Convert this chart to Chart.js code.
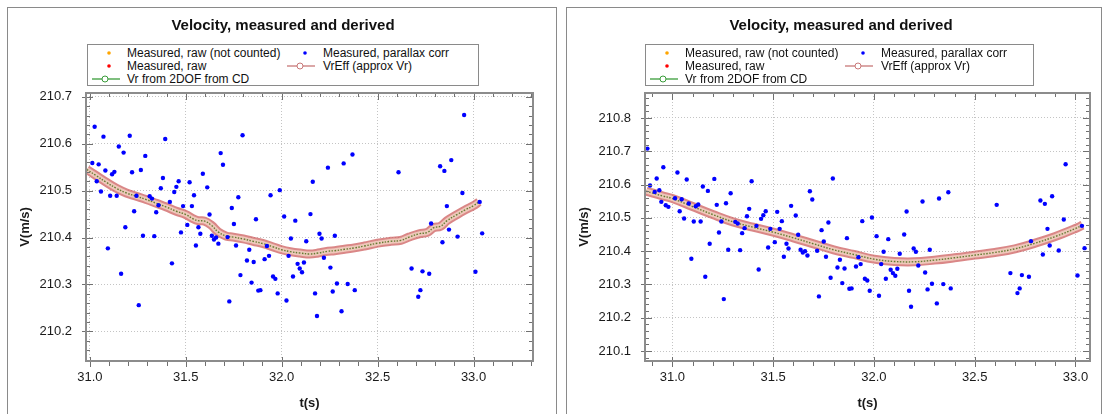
<!DOCTYPE html>
<html>
<head>
<meta charset="utf-8">
<script src="https://cdn.jsdelivr.net/npm/chart.js@4.4.0/dist/chart.umd.min.js"></script>
<style>
    body { margin: 0; width: 1108px; height: 414px; overflow: hidden; background: #fff; position: relative;
           font-family: "Liberation Sans", Arial, sans-serif; color: #111; }
    .panel { position: absolute; top: 7px; height: 430px; border: 1px solid #8a8a8a; box-sizing: border-box; }
    .title { position: absolute; top: 16px; font-weight: bold; font-size: 15px; transform: translateX(-50%); white-space: nowrap; }
    .legend { position: absolute; top: 44px; height: 42px; border: 1px solid #8a8a8a; box-sizing: border-box; background: #fff; }
    .item { position: absolute; font-size: 12px; white-space: nowrap; line-height: 14px; }
    .item svg { position: absolute; }
    canvas { position: absolute; }
</style>
</head>
<body>
<div class="panel" style="left:7px; width:550px;"></div>
<div class="panel" style="left:566px; width:536px;"></div>
<canvas id="leftChart" width="548" height="406" style="left:8px; top:8px;"></canvas>
<canvas id="rightChart" width="534" height="406" style="left:567px; top:8px;"></canvas>
<div class="title" style="left:283px;">Velocity, measured and derived</div>
<div class="title" style="left:841px;">Velocity, measured and derived</div>
<div class="legend" id="leftLegend" style="left:87px; width:392px;"></div>
<div class="legend" id="rightLegend" style="left:645px; width:389px;"></div>

<script>
// Velocity, measured and derived - two views of the same run

// measured, parallax corrected (blue points)
const pointT = [30.876, 30.889, 30.912, 30.922, 30.935, 30.945, 30.955, 30.967, 30.980,
    31.013, 31.025, 31.036, 31.046, 31.058, 31.071, 31.081, 31.094, 31.106, 31.116, 31.128,
    31.140, 31.151, 31.163, 31.176, 31.185, 31.208, 31.220, 31.231, 31.243, 31.255, 31.266,
    31.277, 31.289, 31.312, 31.324, 31.336, 31.346, 31.358, 31.370, 31.381, 31.393, 31.417,
    31.428, 31.440, 31.451, 31.463, 31.475, 31.486, 31.508, 31.520, 31.532, 31.543, 31.553,
    31.566, 31.576, 31.589, 31.612, 31.624, 31.636, 31.647, 31.658, 31.670, 31.682, 31.694,
    31.718, 31.727, 31.740, 31.751, 31.762, 31.774, 31.785, 31.796, 31.819, 31.831, 31.843,
    31.854, 31.866, 31.878, 31.889, 31.911, 31.923, 31.934, 31.942, 31.955, 31.967, 31.979,
    31.990, 32.013, 32.025, 32.036, 32.048, 32.059, 32.071, 32.083, 32.094, 32.106, 32.116,
    32.128, 32.150, 32.162, 32.174, 32.184, 32.197, 32.208, 32.220, 32.241, 32.254, 32.266,
    32.277, 32.288, 32.312, 32.323, 32.344, 32.369, 32.381, 32.609, 32.677, 32.712, 32.723,
    32.734, 32.769, 32.779, 32.826, 32.838, 32.848, 32.861, 32.872, 32.884, 32.917, 32.942,
    32.951, 33.010, 33.032, 33.045];
const pointV = [210.708, 210.597, 210.578, 210.618, 210.583, 210.548, 210.652, 210.538, 210.533,
    210.559, 210.636, 210.520, 210.556, 210.498, 210.615, 210.543, 210.377, 210.489, 210.535, 210.540,
    210.489, 210.594, 210.323, 210.581, 210.422, 210.617, 210.539, 210.456, 210.489, 210.256, 210.544,
    210.404, 210.574, 210.488, 210.483, 210.403, 210.454, 210.469, 210.505, 210.527, 210.610, 210.476,
    210.345, 210.497, 210.508, 210.520, 210.411, 210.467, 210.427, 210.518, 210.467, 210.490, 210.383,
    210.422, 210.408, 210.536, 210.507, 210.449, 210.404, 210.396, 210.400, 210.387, 210.580, 210.555,
    210.401, 210.264, 210.463, 210.429, 210.383, 210.486, 210.320, 210.618, 210.351, 210.374, 210.304,
    210.348, 210.439, 210.287, 210.288, 210.354, 210.382, 210.361, 210.490, 210.317, 210.312, 210.281,
    210.501, 210.445, 210.266, 210.361, 210.398, 210.317, 210.436, 210.344, 210.334, 210.326, 210.347,
    210.392, 210.450, 210.519, 210.281, 210.233, 210.408, 210.398, 210.357, 210.549, 210.336, 210.285,
    210.404, 210.302, 210.243, 210.558, 210.301, 210.577, 210.288, 210.539, 210.334, 210.274, 210.288,
    210.328, 210.323, 210.430, 210.552, 210.390, 210.542, 210.467, 210.417, 210.565, 210.402, 210.495,
    210.661, 210.327, 210.476, 210.409];

// derived curves (VrEff and Vr from 2DOF overlap)
const leftCurveT = [30.984, 31.033, 31.085, 31.138, 31.190, 31.242, 31.294, 31.347, 31.399, 31.451,
    31.500, 31.538, 31.564, 31.599, 31.634, 31.669, 31.712, 31.747, 31.800, 31.852, 31.904, 31.956,
    32.000, 32.044, 32.096, 32.147, 32.190, 32.241, 32.276, 32.328, 32.379, 32.431, 32.500, 32.569,
    32.621, 32.664, 32.716, 32.759, 32.793, 32.828, 32.862, 32.914, 32.957, 33.000, 33.028];
const leftCurveV = [210.545, 210.532, 210.518, 210.505, 210.495, 210.488, 210.481, 210.473, 210.465, 210.456,
    210.449, 210.440, 210.436, 210.435, 210.426, 210.412, 210.403, 210.401, 210.397, 210.392, 210.387, 210.380,
    210.374, 210.370, 210.367, 210.365, 210.367, 210.371, 210.372, 210.375, 210.378, 210.382, 210.388, 210.392,
    210.394, 210.401, 210.408, 210.411, 210.421, 210.424, 210.436, 210.449, 210.459, 210.468, 210.476];
const rightCurveT = [30.870, 30.950, 31.000, 31.100, 31.200, 31.300, 31.400, 31.500, 31.600, 31.700,
    31.800, 31.900, 32.000, 32.100, 32.200, 32.300, 32.400, 32.500, 32.600, 32.700, 32.800, 32.900,
    33.000, 33.035];
const rightCurveV = [210.580, 210.566, 210.558, 210.534, 210.510, 210.488, 210.472, 210.457, 210.440, 210.422,
    210.404, 210.390, 210.376, 210.369, 210.368, 210.373, 210.380, 210.388, 210.396, 210.407, 210.424, 210.444,
    210.468, 210.478];

// axes
const leftXTicks = [31.0, 31.5, 32.0, 32.5, 33.0];
const leftYTicks = [210.2, 210.3, 210.4, 210.5, 210.6, 210.7];
const rightXTicks = [31.0, 31.5, 32.0, 32.5, 33.0];
const rightYTicks = [210.1, 210.2, 210.3, 210.4, 210.5, 210.6, 210.7, 210.8];
const xMinorStep = 0.1;
const yMinorStep = 0.02;
const leftFirstT = 31.0;

const legendLabels = ['Measured, raw (not counted)', 'Measured, raw', 'Vr from 2DOF from CD',
    'Measured, parallax corr', 'VrEff (approx Vr)'];

const COLORS = {
    notCounted: '#ffa500',
    raw: '#ff0000',
    vr2dof: '#3a9c3a',
    parallax: '#0000ff',
    vrEff: '#c87878'
};

function toXY(ts, vs, minT) {
    const out = [];
    ts.forEach((t, i) => {
        if (minT === undefined || t >= minT) out.push({ x: t, y: vs[i] });
    });
    return out;
}

// frame + minor/major tick marks drawn on the plot border
const frameTicks = {
    id: 'frameTicks',
    afterDraw(chart) {
        const { ctx, chartArea: a, scales: { x, y } } = chart;
        const major = chart.options.plugins.frameTicks;
        ctx.save();
        ctx.strokeStyle = '#707070';
        ctx.lineWidth = 1;
        ctx.beginPath();
        const y0 = Math.ceil(y.min / yMinorStep - 1e-6);
        const y1 = Math.floor(y.max / yMinorStep + 1e-6);
        for (let k = y0; k <= y1; k++) {
            const py = Math.round(y.getPixelForValue(k * yMinorStep)) + 0.5;
            ctx.moveTo(a.left, py); ctx.lineTo(a.left + 4, py);
            ctx.moveTo(a.right, py); ctx.lineTo(a.right - 4, py);
        }
        major.y.forEach(v => {
            const py = Math.round(y.getPixelForValue(v)) + 0.5;
            ctx.moveTo(a.left - 4, py); ctx.lineTo(a.left + 7, py);
            ctx.moveTo(a.right, py); ctx.lineTo(a.right - 7, py);
        });
        const x0 = Math.ceil(x.min / xMinorStep - 1e-6);
        const x1 = Math.floor(x.max / xMinorStep + 1e-6);
        for (let k = x0; k <= x1; k++) {
            const px = Math.round(x.getPixelForValue(k * xMinorStep)) + 0.5;
            ctx.moveTo(px, a.bottom); ctx.lineTo(px, a.bottom + 5);
            ctx.moveTo(px, a.top); ctx.lineTo(px, a.top + 4);
        }
        major.x.forEach(v => {
            const px = Math.round(x.getPixelForValue(v)) + 0.5;
            ctx.moveTo(px, a.bottom - 4); ctx.lineTo(px, a.bottom + 6);
            ctx.moveTo(px, a.top); ctx.lineTo(px, a.top + 7);
        });
        ctx.stroke();
        ctx.strokeStyle = '#8c8c8c';
        ctx.lineWidth = 2;
        ctx.strokeRect(a.left, a.top, a.right - a.left, a.bottom - a.top);
        ctx.restore();
    }
};

function makeChart(canvasId, cfg) {
    const ctx = document.getElementById(canvasId).getContext('2d');
    const curve = toXY(cfg.curveT, cfg.curveV);
    return new Chart(ctx, {
        type: 'scatter',
        data: {
            datasets: [
                {
                    label: legendLabels[3],
                    data: toXY(pointT, pointV, cfg.firstT),
                    backgroundColor: COLORS.parallax,
                    pointRadius: 2.2,
                    borderWidth: 0,
                    order: 0
                },
                { label: legendLabels[0], data: [], backgroundColor: COLORS.notCounted, order: 1 },
                { label: legendLabels[1], data: [], backgroundColor: COLORS.raw, order: 1 },
                {
                    label: legendLabels[2],
                    data: curve,
                    showLine: true,
                    borderColor: 'rgba(90,120,40,0.95)',
                    borderWidth: 1.4,
                    borderDash: [1.5, 1.5],
                    pointRadius: 0,
                    tension: 0.4,
                    order: 2
                },
                {
                    label: 'VrEff inner',
                    data: curve,
                    showLine: true,
                    borderColor: 'rgba(238,200,186,1)',
                    borderWidth: 5,
                    pointRadius: 0,
                    tension: 0.4,
                    order: 3
                },
                {
                    label: legendLabels[4],
                    data: curve,
                    showLine: true,
                    borderColor: 'rgba(205,95,95,0.75)',
                    borderWidth: 9,
                    pointRadius: 0,
                    tension: 0.4,
                    order: 4
                }
            ]
        },
        options: {
            responsive: false,
            animation: false,
            devicePixelRatio: 1,
            layout: { padding: { top: 85, right: cfg.padRight, left: 0, bottom: 0 } },
            plugins: {
                legend: { display: false },
                tooltip: { enabled: false },
                frameTicks: { x: cfg.xTicks, y: cfg.yTicks }
            },
            scales: {
                x: {
                    type: 'linear',
                    min: cfg.xMin,
                    max: cfg.xMax,
                    afterBuildTicks: s => { s.ticks = cfg.xTicks.map(v => ({ value: v })); },
                    afterFit: s => { s.height = 53; },
                    ticks: {
                        padding: 9,
                        color: '#1a1a1a',
                        font: { family: '"Liberation Sans", Arial', size: 13 },
                        callback: v => v.toFixed(1)
                    },
                    grid: { color: '#c4c4c4', drawTicks: false },
                    border: { display: false, dash: [1, 2] },
                    title: {
                        display: true,
                        text: 't(s)',
                        color: '#1a1a1a',
                        font: { family: '"Liberation Sans", Arial', size: 13, weight: 'bold' },
                        padding: { top: 0, bottom: 3 }
                    }
                },
                y: {
                    type: 'linear',
                    min: cfg.yMin,
                    max: cfg.yMax,
                    afterBuildTicks: s => { s.ticks = cfg.yTicks.map(v => ({ value: v })); },
                    afterFit: s => { s.width = 78; },
                    ticks: {
                        padding: 14,
                        color: '#1a1a1a',
                        font: { family: '"Liberation Sans", Arial', size: 13 },
                        callback: v => v.toFixed(1)
                    },
                    grid: { color: '#c4c4c4', drawTicks: false },
                    border: { display: false, dash: [1, 2] },
                    title: {
                        display: true,
                        text: 'V(m/s)',
                        color: '#1a1a1a',
                        font: { family: '"Liberation Sans", Arial', size: 13, weight: 'bold' },
                        padding: { top: 10, bottom: 0 }
                    }
                }
            }
        },
        plugins: [frameTicks]
    });
}

function buildLegend(id) {
    const box = document.getElementById(id);
    const dot = c => `<svg width="8" height="8" style="left:-4px;top:3px"><circle cx="4" cy="4" r="1.8" fill="${c}"/></svg>`;
    const lineMark = c => `<svg width="28" height="10" style="left:-14px;top:2px"><line x1="0" y1="5" x2="28" y2="5" stroke="${c}" stroke-width="1.3"/><circle cx="13" cy="5" r="3" fill="#fff" stroke="${c}" stroke-width="1"/></svg>`;
    const items = [
        { label: legendLabels[0], mark: dot(COLORS.notCounted), mx: 21, tx: 39, ty: 1 },
        { label: legendLabels[1], mark: dot(COLORS.raw), mx: 21, tx: 39, ty: 14 },
        { label: legendLabels[2], mark: lineMark(COLORS.vr2dof), mx: 18, tx: 39, ty: 27 },
        { label: legendLabels[3], mark: dot(COLORS.parallax), mx: 217, tx: 235, ty: 1 },
        { label: legendLabels[4], mark: lineMark(COLORS.vrEff), mx: 213, tx: 235, ty: 14 }
    ];
    items.forEach(it => {
        const m = document.createElement('div');
        m.className = 'item';
        m.style.left = it.mx + 'px';
        m.style.top = it.ty + 'px';
        m.innerHTML = it.mark;
        box.appendChild(m);
        const t = document.createElement('div');
        t.className = 'item';
        t.style.left = it.tx + 'px';
        t.style.top = it.ty + 'px';
        t.textContent = it.label;
        box.appendChild(t);
    });
}

document.addEventListener('DOMContentLoaded', function () {
    makeChart('leftChart', {
        xMin: 30.98, xMax: 33.31, yMin: 210.137, yMax: 210.708,
        xTicks: leftXTicks, yTicks: leftYTicks, padRight: 23,
        curveT: leftCurveT, curveV: leftCurveV, firstT: leftFirstT
    });
    makeChart('rightChart', {
        xMin: 30.864, xMax: 33.072, yMin: 210.07, yMax: 210.875,
        xTicks: rightXTicks, yTicks: rightYTicks, padRight: 11,
        curveT: rightCurveT, curveV: rightCurveV
    });
    buildLegend('leftLegend');
    buildLegend('rightLegend');
});
</script>
</body>
</html>
